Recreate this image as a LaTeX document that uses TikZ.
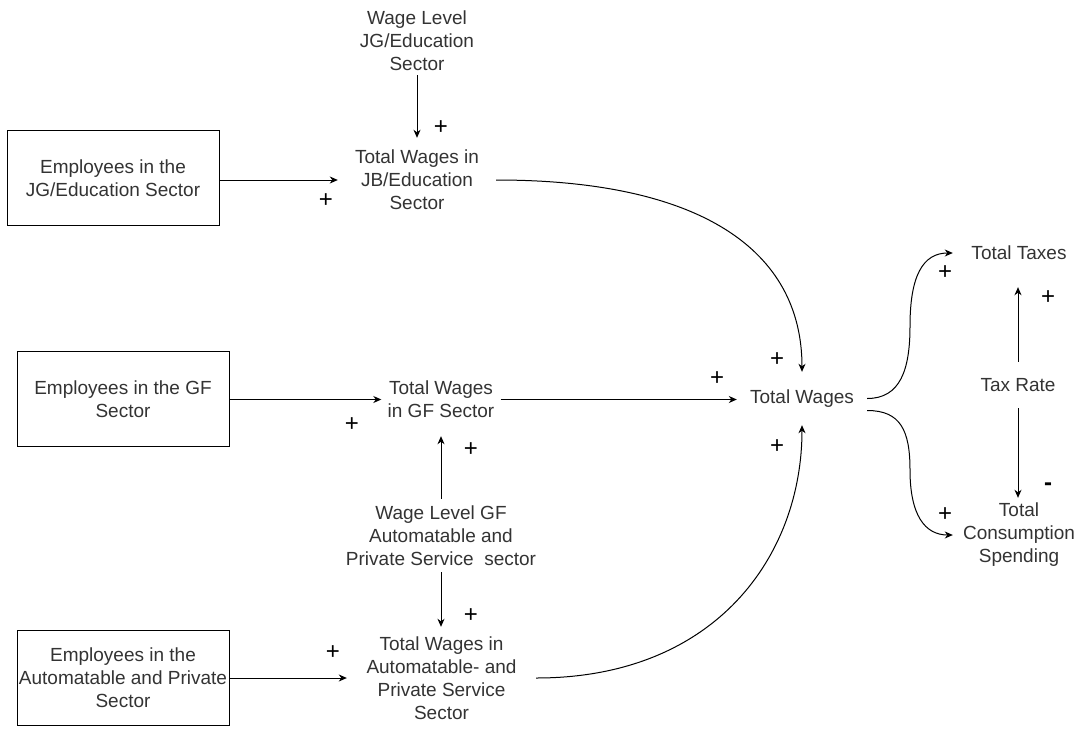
\documentclass[tikz,border=0pt]{standalone}
\usepackage{fontspec}
\setmainfont{Liberation Sans}
\usetikzlibrary{arrows.meta,calc}
\definecolor{txt}{RGB}{51,51,51}
\begin{document}
\begin{tikzpicture}[x=1pt,y=-1pt,
  lbl/.style={align=center, inner sep=0pt, text=txt, font=\fontsize{19}{23}\selectfont},
  box/.style={draw=black, line width=1pt, minimum width=212pt, minimum height=95pt, inner sep=0pt, align=center, text=txt, font=\fontsize{19}{23}\selectfont},
  sign/.style={inner sep=0pt, font=\fontsize{24}{24}\selectfont, text=black},
  arr/.style={-{Stealth[length=8pt,width=7pt,inset=2.5pt]}, line width=1pt, draw=black}]
\useasboundingbox (0,0) rectangle (1081,728);

% variables
\node[lbl, minimum width=120pt, minimum height=68pt] (wljg) at (417,41) {Wage Level\\JG/Education\\Sector};
\node[lbl, minimum width=158pt, minimum height=84pt] (twjb) at (417,180) {Total Wages in\\JB/Education\\Sector};
\node[box] (box1) at (113,178) {Employees in the\\JG/Education Sector};
\node[box] (box2) at (123,399) {Employees in the GF\\Sector};
\node[box] (box3) at (123,678) {Employees in the\\Automatable and Private\\Sector};
\node[lbl, minimum width=119pt, minimum height=73pt] (twgf) at (441,399.5) {Total Wages\\in GF Sector};
\node[lbl, minimum width=200pt, minimum height=73pt] (wlgf) at (441,535.5) {Wage Level GF\\Automatable and\\Private Service\ \ sector};
\node[lbl, minimum width=189pt, minimum height=102pt] (twap) at (441.5,678) {Total Wages in\\Automatable- and\\Private Service\\Sector};
\node[lbl, minimum width=130pt, minimum height=53pt] (tw) at (802,398.5) {Total Wages};
\node[lbl, minimum width=132pt, minimum height=68pt] (tt) at (1019,253) {Total Taxes};
\node[lbl, minimum width=90pt, minimum height=46pt] (tr) at (1018,385) {Tax Rate};
\node[lbl, minimum width=132pt, minimum height=74pt] (tcs) at (1019,535) {Total\\Consumption\\Spending};

% polarity signs
\node[sign] (s1) at (441,128) {+};
\node[sign] (s2) at (326,201) {+};
\node[sign] (s3) at (777,360) {+};
\node[sign] (s4) at (717,379) {+};
\node[sign] (s5) at (777,447) {+};
\node[sign] (s6) at (352,425) {+};
\node[sign] (s7) at (471,450) {+};
\node[sign] (s8) at (471,616) {+};
\node[sign] (s9) at (333,653) {+};
\node[sign] (s10) at (945,273) {+};
\node[sign] (s11) at (1048,298) {+};
\node[sign, font=\bfseries\fontsize{24}{24}\selectfont] (s12) at (1048,487) {-};
\node[sign] (s13) at (945,515) {+};

% waypoints
\coordinate (wpT) at (910,326);
\coordinate (wpC) at (910,470);

% connectors
\draw[arr] (wljg.south) -- (wljg.south |- twjb.north);
\draw[arr] (box1.east |- twjb) -- (twjb.west);
\draw[arr] (box2.east |- twgf) -- (twgf.west);
\draw[arr] (box3.east |- twap) -- (twap.west);
\draw[arr] (wlgf.north) -- (wlgf.north |- twgf.south);
\draw[arr] (wlgf.south) -- (wlgf.south |- twap.north);
\draw[arr] (twgf.east) -- (twgf.east -| tw.west);
\draw[arr] (twjb.east) .. controls +(204,0) and +(0,-122) .. (tw.north);
\draw[arr] (twap.east) .. controls +(180,0) and +(0,130) .. (tw.south);
\draw[arr] (tw.east) .. controls +(33,0) and +(0,44) .. (wpT) .. controls +(0,-50) and +(-30,0) .. (tt.west);
\draw[arr] ([yshift=-12pt]tw.east) .. controls +(33,0) and +(0,-40) .. (wpC) .. controls +(0,45) and +(-28,0) .. (tcs.west);
\draw[arr] (tr.north) -- (tr.north |- tt.south);
\draw[arr] (tr.south) -- (tr.south |- tcs.north);
\end{tikzpicture}
\end{document}
